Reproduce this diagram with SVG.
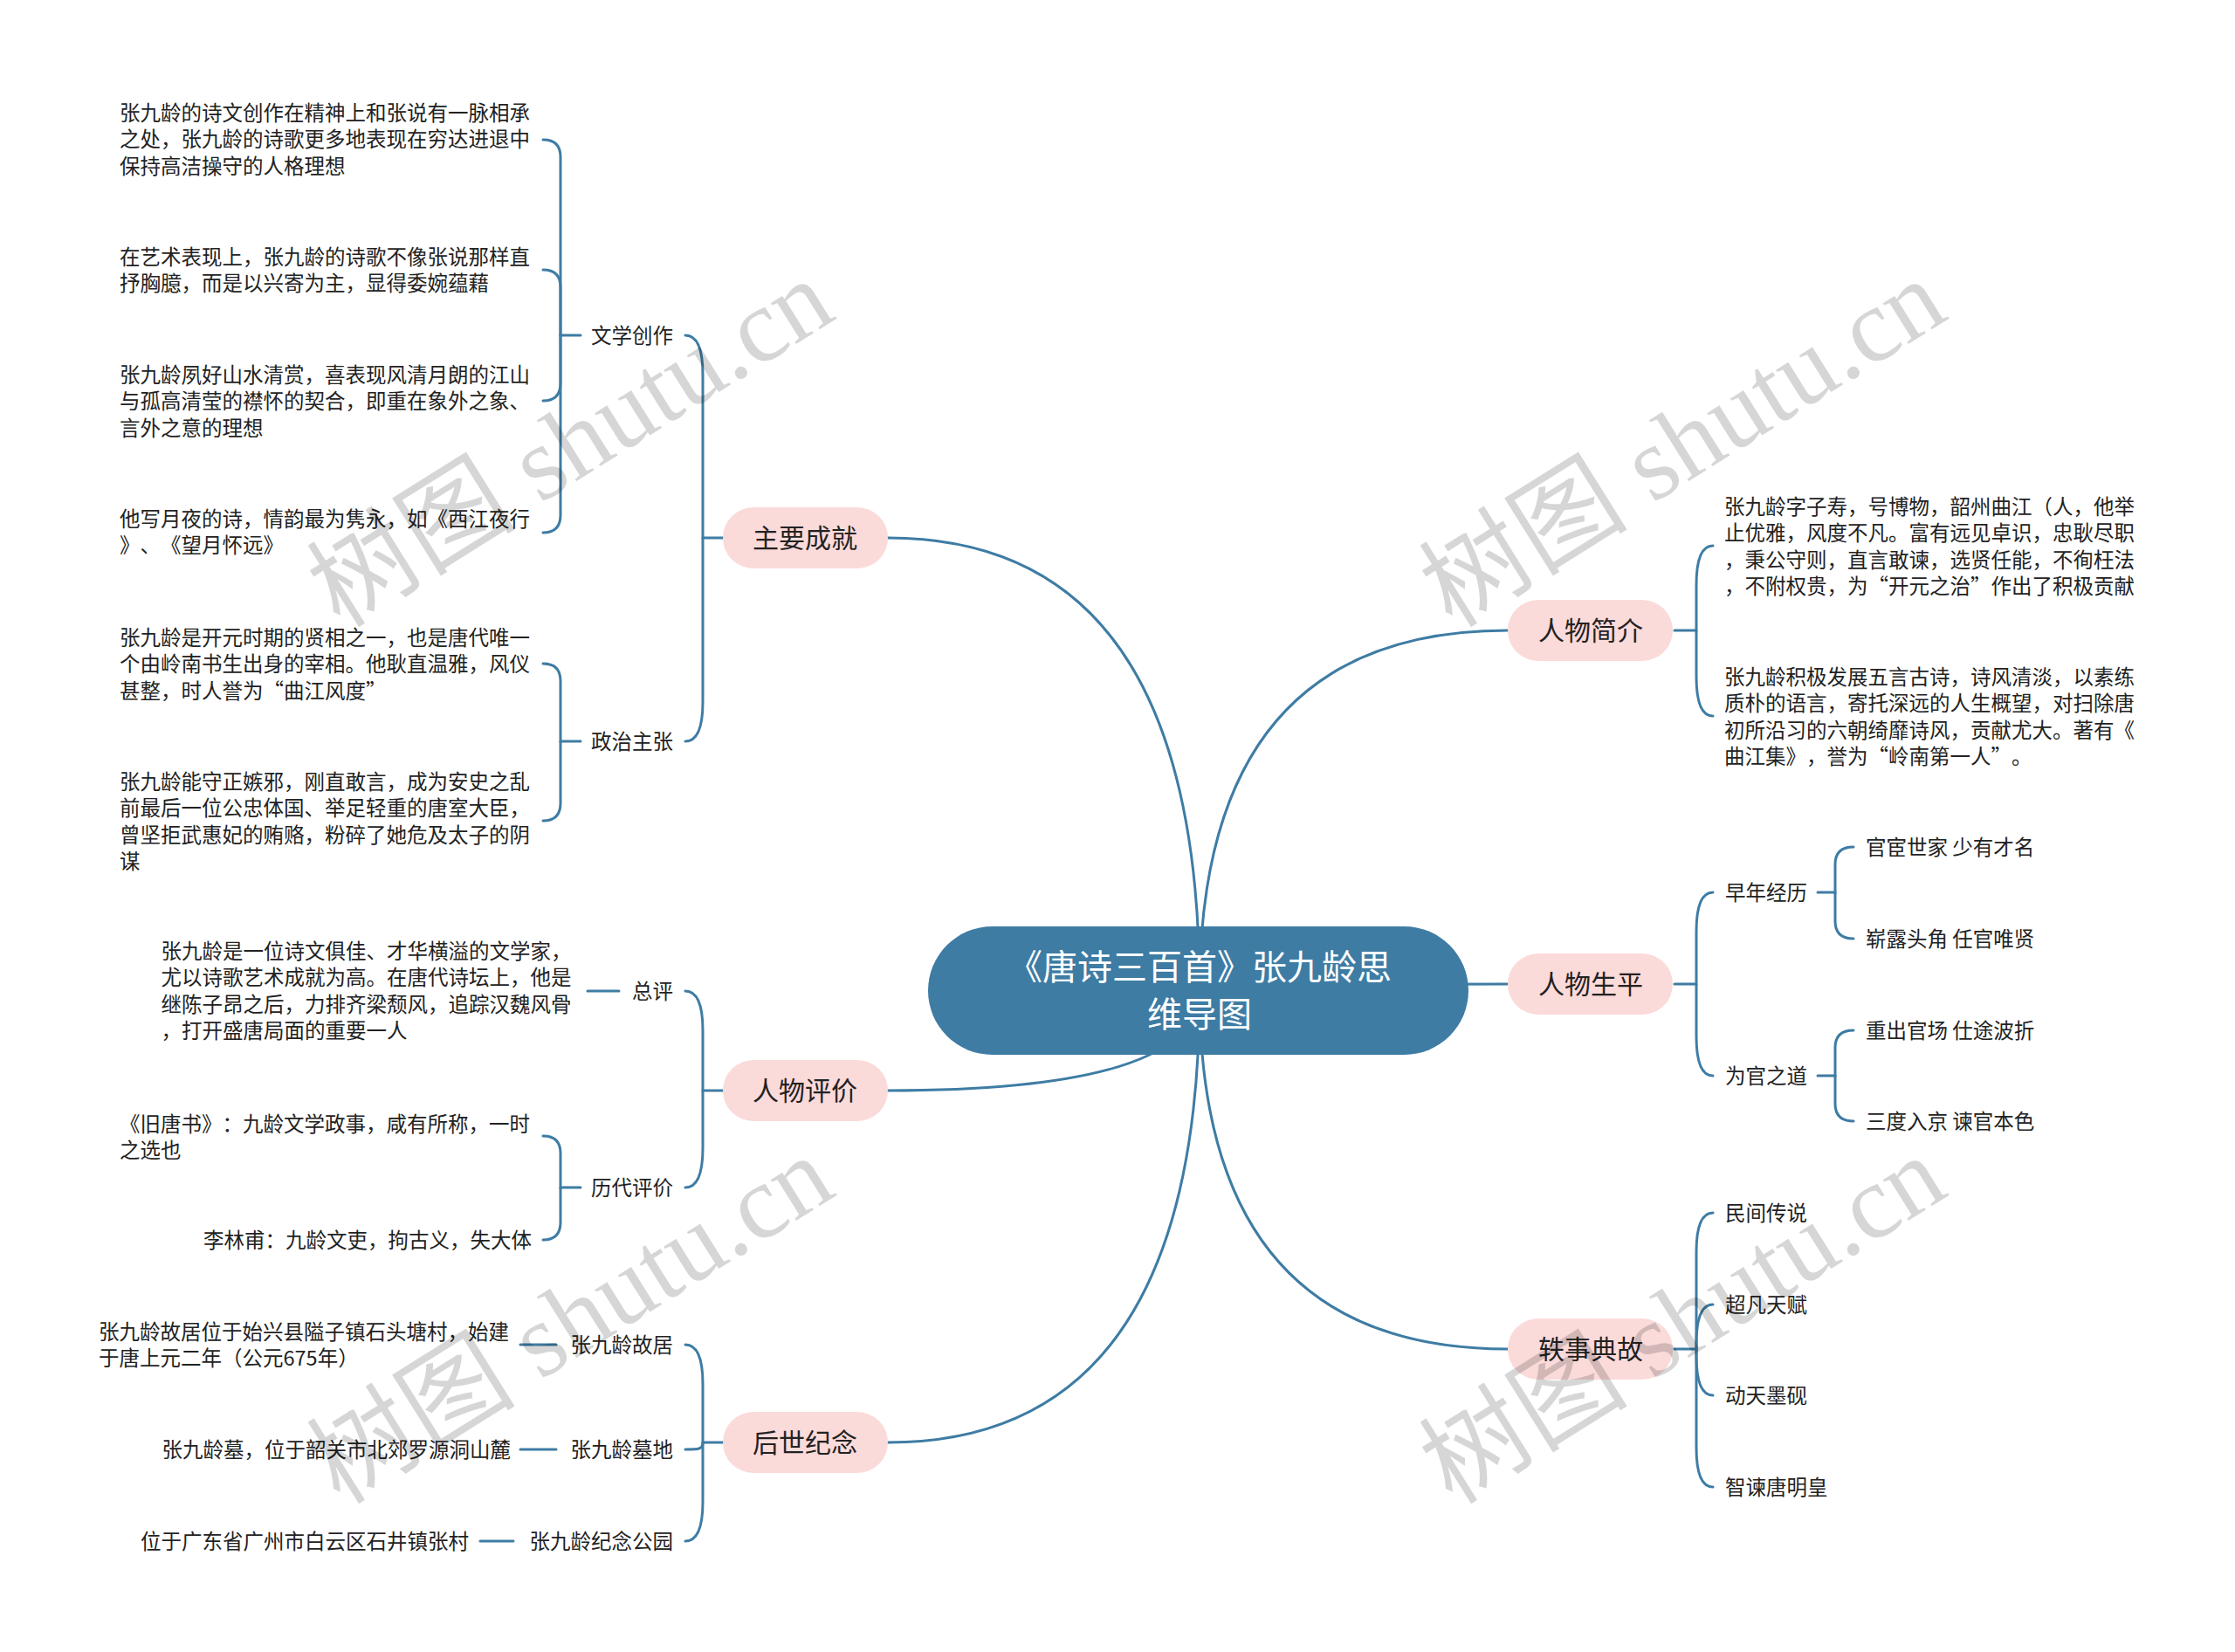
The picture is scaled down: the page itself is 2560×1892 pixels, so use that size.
<svg xmlns="http://www.w3.org/2000/svg" width="2560" height="1892" viewBox="0 0 2560 1892">
<defs>
<style>
text{text-spacing-trim:space-all;font-feature-settings:"halt" 0,"chws" 0,"palt" 0}
.t{font-family:"Noto Sans CJK SC","Liberation Sans",sans-serif;font-size:23.5px;fill:#222}
.e{text-anchor:end}
.m{font-family:"Noto Sans CJK SC","Liberation Sans",sans-serif;font-size:30px;fill:#222;text-anchor:middle}
.root{font-family:"Noto Sans CJK SC","Liberation Sans",sans-serif;font-size:40px;fill:#fff;text-anchor:middle}
.pill{fill:#fbdada}
.c{stroke:#3e7ca4;stroke-width:3;fill:none;stroke-linecap:round}
.wm{font-family:"Liberation Serif","Noto Sans CJK SC",serif;font-size:120px;fill:#000;fill-opacity:0.16;text-anchor:middle}
</style>
</defs>
<rect width="2560" height="1892" fill="#fff"/>
<g id="connectors">
<path class="c" d="M1017 616 Q1374 616 1374 1135"/>
<path class="c" d="M1017 1249 Q1374 1249 1374 1135"/>
<path class="c" d="M1017 1652 Q1374 1652 1374 1135"/>
<path class="c" d="M1727 722 Q1374 722 1374 1135"/>
<path class="c" d="M1727 1127 Q1374 1127 1374 1135"/>
<path class="c" d="M1727 1545 Q1374 1545 1374 1135"/>
<path class="c" d="M828 616 H805 V429 Q805 384 785 384"/>
<path class="c" d="M805 616 V804 Q805 849 785 849"/>
<path class="c" d="M828 1249 H805 V1180 Q805 1135 785 1135"/>
<path class="c" d="M805 1249 V1315 Q805 1360 785 1360"/>
<path class="c" d="M828 1652 H805 V1585 Q805 1540 785 1540"/>
<path class="c" d="M805 1652 C805 1660 800 1660 785 1660"/>
<path class="c" d="M805 1652 V1720 Q805 1765 785 1765"/>
<path class="c" d="M665 384 H642 V180 Q642 160 622 160"/>
<path class="c" d="M642 384 V329 Q642 309 622 309"/>
<path class="c" d="M642 384 V439 Q642 459 622 459"/>
<path class="c" d="M642 384 V590 Q642 610 622 610"/>
<path class="c" d="M665 849 H642 V780 Q642 760 622 760"/>
<path class="c" d="M642 849 V920 Q642 940 622 940"/>
<path class="c" d="M665 1360 H642 V1321 Q642 1301 622 1301"/>
<path class="c" d="M642 1360 V1400 Q642 1420 622 1420"/>
<path class="c" d="M673 1135 H709"/>
<path class="c" d="M596 1540 H637"/>
<path class="c" d="M596 1660 H637"/>
<path class="c" d="M550 1765 H588"/>
<path class="c" d="M1918 722 H1943 V670 Q1943 625 1962 625"/>
<path class="c" d="M1943 722 V775 Q1943 820 1962 820"/>
<path class="c" d="M1918 1127 H1943 V1067 Q1943 1022 1962 1022"/>
<path class="c" d="M1943 1127 V1187 Q1943 1232 1962 1232"/>
<path class="c" d="M1918 1545 H1943 V1434 Q1943 1389 1962 1389"/>
<path class="c" d="M1943 1545 V1539 Q1943 1494 1962 1494"/>
<path class="c" d="M1943 1545 V1553 Q1943 1598 1962 1598"/>
<path class="c" d="M1943 1545 V1658 Q1943 1703 1962 1703"/>
<path class="c" d="M2082 1022 H2102 V990 Q2102 970 2123 970"/>
<path class="c" d="M2102 1022 V1055 Q2102 1075 2123 1075"/>
<path class="c" d="M2082 1232 H2102 V1200 Q2102 1180 2123 1180"/>
<path class="c" d="M2102 1232 V1264 Q2102 1284 2123 1284"/>
</g>
<g id="root">
<rect x="1063" y="1061" width="619" height="147" rx="73.5" fill="#3e7ca4"/>
<text class="root" x="1374" y="1122">《唐诗三百首》张九龄思</text>
<text class="root" x="1374" y="1176">维导图</text>
</g>
<g id="n-zycj"><rect class="pill" x="828" y="581" width="189" height="70" rx="35"/><text class="m" x="922" y="627">主要成就</text></g>
<g id="n-rwpj"><rect class="pill" x="828" y="1214" width="189" height="70" rx="35"/><text class="m" x="922" y="1260">人物评价</text></g>
<g id="n-hsjn"><rect class="pill" x="828" y="1617" width="189" height="70" rx="35"/><text class="m" x="922" y="1663">后世纪念</text></g>
<g id="n-rwjj"><rect class="pill" x="1727" y="687" width="189" height="70" rx="35"/><text class="m" x="1822" y="733">人物简介</text></g>
<g id="n-rwsp"><rect class="pill" x="1727" y="1092" width="189" height="70" rx="35"/><text class="m" x="1822" y="1138">人物生平</text></g>
<g id="n-ysdg"><rect class="pill" x="1727" y="1510" width="189" height="70" rx="35"/><text class="m" x="1822" y="1556">轶事典故</text></g>
<g id="n-wxcz"><text class="t e" x="771" y="393">文学创作</text></g>
<g id="n-zzzz"><text class="t e" x="771" y="858">政治主张</text></g>
<g id="n-t1"><text class="t" x="137" y="138">张九龄的诗文创作在精神上和张说有一脉相承</text><text class="t" x="137" y="168.3">之处，张九龄的诗歌更多地表现在穷达进退中</text><text class="t" x="137" y="198.6">保持高洁操守的人格理想</text></g>
<g id="n-t2"><text class="t" x="137" y="303">在艺术表现上，张九龄的诗歌不像张说那样直</text><text class="t" x="137" y="333.3">抒胸臆，而是以兴寄为主，显得委婉蕴藉</text></g>
<g id="n-t3"><text class="t" x="137" y="438">张九龄夙好山水清赏，喜表现风清月朗的江山</text><text class="t" x="137" y="468.3">与孤高清莹的襟怀的契合，即重在象外之象、</text><text class="t" x="137" y="498.6">言外之意的理想</text></g>
<g id="n-t4"><text class="t" x="137" y="603">他写月夜的诗，情韵最为隽永，如《西江夜行</text><text class="t" x="137" y="633.3">》、《望月怀远》</text></g>
<g id="n-p1"><text class="t" x="137" y="739">张九龄是开元时期的贤相之一，也是唐代唯一</text><text class="t" x="137" y="769.3">个由岭南书生出身的宰相。他耿直温雅，风仪</text><text class="t" x="137" y="799.6">甚整，时人誉为“曲江风度”</text></g>
<g id="n-p2"><text class="t" x="137" y="904">张九龄能守正嫉邪，刚直敢言，成为安史之乱</text><text class="t" x="137" y="934.3">前最后一位公忠体国、举足轻重的唐室大臣，</text><text class="t" x="137" y="964.6">曾坚拒武惠妃的贿赂，粉碎了她危及太子的阴</text><text class="t" x="137" y="994.9">谋</text></g>
<g id="n-zp"><text class="t e" x="771" y="1144">总评</text></g>
<g id="n-zp1"><text class="t" x="184.5" y="1098">张九龄是一位诗文俱佳、才华横溢的文学家，</text><text class="t" x="184.5" y="1128.3">尤以诗歌艺术成就为高。在唐代诗坛上，他是</text><text class="t" x="184.5" y="1158.6">继陈子昂之后，力排齐梁颓风，追踪汉魏风骨</text><text class="t" x="184.5" y="1188.9">，打开盛唐局面的重要一人</text></g>
<g id="n-ldpj"><text class="t e" x="771" y="1369">历代评价</text></g>
<g id="n-h1"><text class="t" x="137" y="1296">《旧唐书》：九龄文学政事，咸有所称，一时</text><text class="t" x="137" y="1326.3">之选也</text></g>
<g id="n-h2"><text class="t e" x="609" y="1429">李林甫：九龄文吏，拘古义，失大体</text></g>
<g id="n-gj"><text class="t e" x="771" y="1549">张九龄故居</text></g>
<g id="n-gj1"><text class="t" x="113" y="1534">张九龄故居位于始兴县隘子镇石头塘村，始建</text><text class="t" x="113" y="1564.3">于唐上元二年（公元675年）</text></g>
<g id="n-md"><text class="t e" x="771" y="1669">张九龄墓地</text></g>
<g id="n-md1"><text class="t e" x="585" y="1669">张九龄墓，位于韶关市北郊罗源洞山麓</text></g>
<g id="n-gy"><text class="t e" x="771" y="1774">张九龄纪念公园</text></g>
<g id="n-gy1"><text class="t e" x="537" y="1774">位于广东省广州市白云区石井镇张村</text></g>
<g id="n-j1"><text class="t" x="1975" y="589">张九龄字子寿，号博物，韶州曲江（人，他举</text><text class="t" x="1975" y="619.3">止优雅，风度不凡。富有远见卓识，忠耿尽职</text><text class="t" x="1975" y="649.6">，秉公守则，直言敢谏，选贤任能，不徇枉法</text><text class="t" x="1975" y="679.9">，不附权贵，为“开元之治”作出了积极贡献</text></g>
<g id="n-j2"><text class="t" x="1975" y="784">张九龄积极发展五言古诗，诗风清淡，以素练</text><text class="t" x="1975" y="814.3">质朴的语言，寄托深远的人生概望，对扫除唐</text><text class="t" x="1975" y="844.6">初所沿习的六朝绮靡诗风，贡献尤大。著有《</text><text class="t" x="1975" y="874.9">曲江集》，誉为“岭南第一人”。</text></g>
<g id="n-znjl"><text class="t" x="1976" y="1031">早年经历</text></g>
<g id="n-wgzd"><text class="t" x="1976" y="1241">为官之道</text></g>
<g id="n-s1"><text class="t" x="2137" y="979">官宦世家 少有才名</text></g>
<g id="n-s2"><text class="t" x="2137" y="1084">崭露头角 任官唯贤</text></g>
<g id="n-s3"><text class="t" x="2137" y="1189">重出官场 仕途波折</text></g>
<g id="n-s4"><text class="t" x="2137" y="1293">三度入京 谏官本色</text></g>
<g id="n-y1"><text class="t" x="1976" y="1398">民间传说</text></g>
<g id="n-y2"><text class="t" x="1976" y="1503">超凡天赋</text></g>
<g id="n-y3"><text class="t" x="1976" y="1607">动天墨砚</text></g>
<g id="n-y4"><text class="t" x="1976" y="1712">智谏唐明皇</text></g>
<g id="watermarks">
<text class="wm" x="675" y="542" transform="rotate(-32 675 542)">树图 shutu.cn</text>
<text class="wm" x="1949" y="542" transform="rotate(-32 1949 542)">树图 shutu.cn</text>
<text class="wm" x="675" y="1546" transform="rotate(-32 675 1546)">树图 shutu.cn</text>
<text class="wm" x="1949" y="1546" transform="rotate(-32 1949 1546)">树图 shutu.cn</text>
</g>
</svg>
